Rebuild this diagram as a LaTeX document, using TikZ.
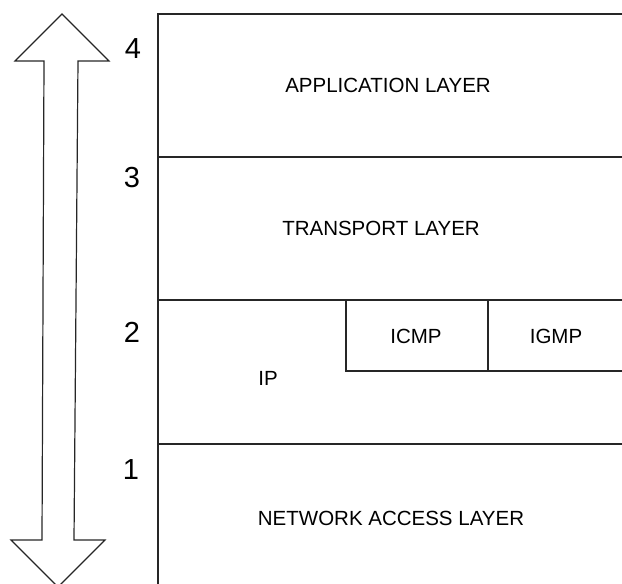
\documentclass[tikz,border=0pt]{standalone}
\usepackage{fontspec}
\setmainfont{Liberation Sans}
\begin{document}
\begin{tikzpicture}[x=1pt,y=-1pt,
  line/.style={draw=black!85,line width=1.2pt},
  lbl/.style={font=\fontsize{20.5}{24}\selectfont,inner sep=0pt,anchor=center},
  num/.style={font=\fontsize{29}{33}\selectfont,inner sep=0pt,anchor=center}]
\useasboundingbox (0,0) rectangle (622,584);
\begin{scope}
\clip (0,0) rectangle (622,584);
% double arrow
\draw[line,line join=miter] (62,14) -- (109,61) -- (78,61) -- (74,540) -- (105,540) -- (58,587)
  -- (11,540) -- (42,540) -- (44,61) -- (15,61) -- cycle;
% layer frame
\draw[line] (630,14) -- (158,14) -- (158,590);
\draw[line] (158,157) -- (630,157);
\draw[line] (158,300) -- (630,300);
\draw[line] (158,444) -- (630,444);
% ICMP / IGMP box
\draw[line] (346,300) -- (346,371) -- (630,371);
\draw[line] (488,300) -- (488,371);
\end{scope}
% numbers
\node[num] (n4) at (133,49) {4};
\node[num] (n3) at (132,178) {3};
\node[num] (n2) at (132,332) {2};
\node[num] (n1) at (131,470) {1};
% labels
\node[lbl] (app) at (388,85) {APPLICATION LAYER};
\node[lbl] (trn) at (381,228) {TRANSPORT LAYER};
\node[lbl] (ip) at (268,378) {IP};
\node[lbl] (icmp) at (416,336) {ICMP};
\node[lbl] (igmp) at (556,336) {IGMP};
\node[lbl] (net) at (391,518) {NETWORK ACCESS LAYER};
\end{tikzpicture}
\end{document}
